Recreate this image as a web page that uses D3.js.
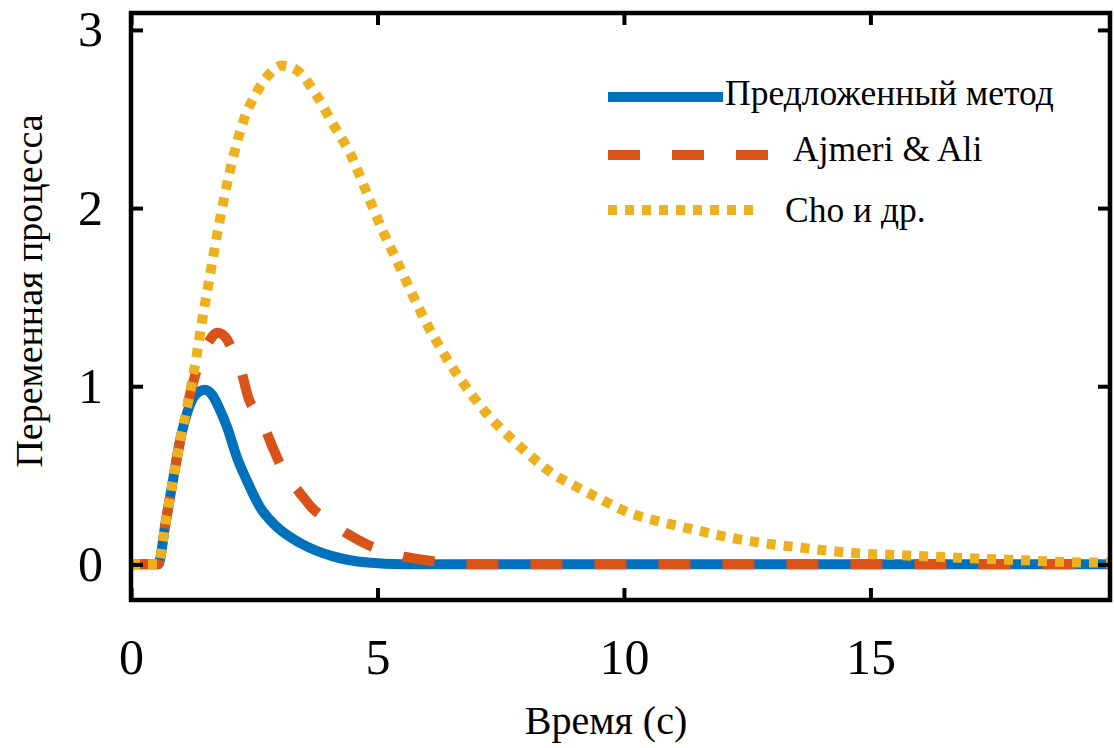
<!DOCTYPE html>
<html>
<head>
<meta charset="utf-8">
<script src="https://cdn.jsdelivr.net/npm/d3@7"></script>
<style>
    body { margin: 0; background: #fff; }
    svg text { font-family: "Liberation Serif", "Times New Roman", serif; fill: #000; }
</style>
</head>
<body>
<div id="chart"></div>
<script>
// time (s) and process variable
const timeProposed = [0, 0.55, 0.7, 0.85, 1.0, 1.15, 1.3, 1.5, 1.65, 1.8, 1.95, 2.15, 2.35, 2.62, 2.96, 3.43, 4.1, 4.8, 5.5, 19.86];
const valueProposed = [0, 0, 0.23, 0.47, 0.7, 0.86, 0.95, 0.98, 0.95, 0.87, 0.77, 0.6, 0.47, 0.32, 0.21, 0.12, 0.045, 0.01, 0, 0];

const timeAjmeri = [0, 0.55, 0.7, 0.85, 1.0, 1.15, 1.3, 1.45, 1.6, 1.75, 1.9, 2.05, 2.2, 2.4, 2.55, 2.72, 2.9, 3.12, 3.4, 3.7, 4.04, 4.4, 4.8, 5.2, 5.6, 6.2, 7.0, 19.86];
const valueAjmeri = [0, 0, 0.23, 0.47, 0.7, 0.9, 1.06, 1.18, 1.26, 1.3, 1.28, 1.21, 1.12, 0.92, 0.85, 0.76, 0.64, 0.51, 0.41, 0.31, 0.24, 0.17, 0.11, 0.07, 0.04, 0.015, 0, 0];

const timeCho = [0, 0.55, 0.7, 0.85, 1.0, 1.15, 1.3, 1.45, 1.6, 1.8, 2.0, 2.27, 2.55, 2.8, 3.05, 3.33, 3.77, 4.1, 4.44, 4.85, 5.11, 5.4, 5.7, 6.0, 6.33, 6.51, 6.71, 6.92, 7.3, 7.7, 8.1, 8.6, 8.9, 9.5, 10.1, 10.8, 11.5, 12.15, 12.8, 13.5, 14.2, 14.85, 15.2, 16.55, 17.9, 19.6, 19.86];
const valueCho = [0, 0, 0.23, 0.47, 0.7, 0.9, 1.12, 1.38, 1.62, 1.93, 2.2, 2.48, 2.65, 2.75, 2.8, 2.78, 2.63, 2.47, 2.31, 2.04, 1.87, 1.7, 1.52, 1.35, 1.19, 1.11, 1.03, 0.95, 0.82, 0.71, 0.61, 0.5, 0.455, 0.37, 0.29, 0.235, 0.19, 0.15, 0.12, 0.097, 0.075, 0.06, 0.056, 0.04, 0.025, 0.01, 0.01];

const seriesNames = ["Предложенный метод", "Ajmeri & Ali", "Cho и др."];
const xTicks = [0, 5, 10, 15];
const yTicks = [0, 1, 2, 3];
const xLabel = "Время (с)";
const yLabel = "Переменная процесса";

const W = 1114, H = 748;
const plotLeft = 131, plotRight = 1110, plotTop = 13, plotBottom = 600;
const serif = "'Liberation Serif', 'Times New Roman', serif";

const svg = d3.select("#chart").append("svg")
    .attr("width", W)
    .attr("height", H);

const x = d3.scaleLinear().domain([0, 19.86]).range([plotLeft, plotRight]);
const y = d3.scaleLinear().domain([-0.2, 3.095]).range([plotBottom, plotTop]);

svg.append("clipPath").attr("id", "plot-clip")
    .append("rect")
    .attr("x", plotLeft).attr("y", plotTop)
    .attr("width", plotRight - plotLeft).attr("height", plotBottom - plotTop);

const series = [
    {name: seriesNames[0], t: timeProposed, v: valueProposed, color: "#0072BD", dash: null},
    {name: seriesNames[1], t: timeAjmeri, v: valueAjmeri, color: "#D95319", dash: "32,32"},
    {name: seriesNames[2], t: timeCho, v: valueCho, color: "#EDB120", dash: "9,8"}
];

const line = d3.line()
    .x(d => x(d[0]))
    .y(d => y(d[1]))
    .curve(d3.curveMonotoneX);

const plot = svg.append("g").attr("clip-path", "url(#plot-clip)");
series.forEach(s => {
    plot.append("path")
        .datum(d3.zip(s.t, s.v))
        .attr("d", line)
        .attr("fill", "none")
        .attr("stroke", s.color)
        .attr("stroke-width", 10)
        .attr("stroke-linejoin", "round")
        .attr("stroke-dasharray", s.dash);
});

// axes, ticks pointing inward
const tickSize = 12;
const fmt = d3.format("d");
const gx = svg.append("g")
    .attr("transform", `translate(0,${plotBottom})`)
    .call(d3.axisBottom(x).tickValues(xTicks).tickFormat(fmt).tickSize(-tickSize).tickPadding(38));
const gy = svg.append("g")
    .attr("transform", `translate(${plotLeft},0)`)
    .call(d3.axisLeft(y).tickValues(yTicks).tickFormat(fmt).tickSize(-tickSize).tickPadding(28));
const gt = svg.append("g")
    .attr("transform", `translate(0,${plotTop})`)
    .call(d3.axisTop(x).tickValues(xTicks).tickSize(-tickSize).tickFormat(""));
const gr = svg.append("g")
    .attr("transform", `translate(${plotRight},0)`)
    .call(d3.axisRight(y).tickValues(yTicks).tickSize(-tickSize).tickFormat(""));

[gx, gy, gt, gr].forEach(g => {
    g.attr("font-family", serif);
    g.select(".domain").remove();
    g.selectAll(".tick line").attr("stroke", "#000").attr("stroke-width", 4);
    g.selectAll(".tick text")
        .style("font-size", "50px")
        .style("font-family", serif)
        .attr("fill", "#000");
});

svg.append("rect")
    .attr("x", plotLeft).attr("y", plotTop)
    .attr("width", plotRight - plotLeft).attr("height", plotBottom - plotTop)
    .attr("fill", "none")
    .attr("stroke", "#000")
    .attr("stroke-width", 4.5);

// axis titles
svg.append("text")
    .attr("x", 606).attr("y", 734)
    .attr("text-anchor", "middle")
    .style("font-size", "40px")
    .text(xLabel);

svg.append("text")
    .attr("transform", "translate(42,291) rotate(-90)")
    .attr("text-anchor", "middle")
    .style("font-size", "38px")
    .text(yLabel);

// legend
const legendRows = [
    {y: 97, x2: 723, tx: 725, ty: 105},
    {y: 155, x2: 768, tx: 793, ty: 161},
    {y: 210, x2: 760, tx: 785, ty: 222}
];
series.forEach((s, i) => {
    const r = legendRows[i];
    svg.append("line")
        .attr("x1", 608).attr("x2", r.x2)
        .attr("y1", r.y).attr("y2", r.y)
        .attr("stroke", s.color)
        .attr("stroke-width", 10)
        .attr("stroke-dasharray", s.dash);
    svg.append("text")
        .attr("x", r.tx).attr("y", r.ty)
        .style("font-size", "35.5px")
        .text(s.name);
});
</script>
</body>
</html>
